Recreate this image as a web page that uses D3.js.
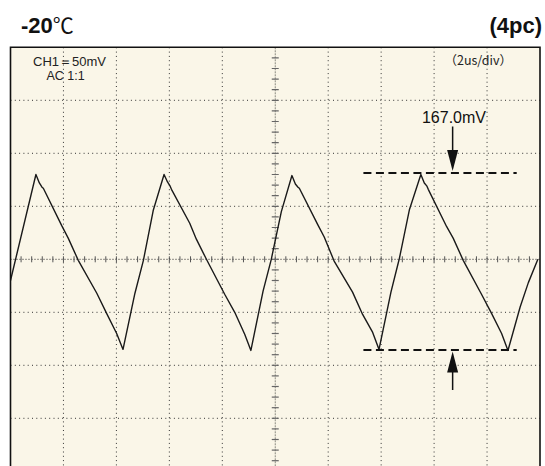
<!DOCTYPE html>
<html>
<head>
<meta charset="utf-8">
<script src="https://cdn.jsdelivr.net/npm/d3@7"></script>
<style>
  html, body { margin: 0; padding: 0; background: #ffffff; }
  svg { display: block; }
</style>
</head>
<body>
<svg id="chart" width="545" height="466"></svg>
<script>
// ---- data (time in us, voltage in mV) ----
const timeUs = [0, 0.96, 1.09, 1.19, 1.24, 1.93, 2.18, 2.56, 3.26, 3.63, 4.01, 4.25, 4.70, 5.02, 5.39, 5.80,
  5.93, 6.03, 6.08, 6.77, 7.02, 7.40, 8.09, 8.47, 8.85, 9.08, 9.54, 9.85, 10.23, 10.63,
  10.76, 10.86, 10.91, 11.60, 11.85, 12.23, 12.92, 13.30, 13.68, 13.92, 14.37, 14.69, 15.07, 15.50,
  15.63, 15.73, 15.78, 16.47, 16.72, 17.10, 17.79, 18.17, 18.55, 18.79, 19.25, 19.56, 19.92];
const voltageMv = [-20, 80, 72, 68, 67, 32, 20, -1, -32, -51, -70, -85, -32, -1, 46, 80,
  73, 69, 66, 34, 19, 0, -33, -50, -71, -86, -30, 0, 45, 79,
  71, 68, 67, 33, 21, -2, -31, -52, -69, -85, -31, 1, 47, 80,
  72, 69, 66, 31, 20, -1, -33, -51, -70, -86, -45, -22, 0];
const xGridUs = [2, 4, 6, 8, 12, 14, 16, 18];
const yGridMv = [150, 100, 50, -50, -100, -150];
const timeDomain = [0, 20];
const voltDomain = [-200, 200];
const minorStepUs = 0.4;
const minorStepMv = 10;
const peakLevel = 81.5;
const troughLevel = -85.5;
const markerSpan = [13.33, 19.12];
const arrowTime = 16.70;
const titleLeft = "-20";
const titleUnit = "℃";
const titleRight = "(4pc)";
const chLabel = "CH1＝50mV";
const acLabel = "AC 1:1";
const divLabel = "（2us/div）";
const ppLabel = "167.0mV";

// ---- layout ----
const svg = d3.select("#chart");
const pLeft = 10.5, pRight = 540, pTop = 47.3, pBottom = 471.3;
const x = d3.scaleLinear().domain(timeDomain).range([pLeft, pRight]);
const y = d3.scaleLinear().domain(voltDomain).range([pBottom, pTop]);

svg.append("defs").append("clipPath").attr("id", "clip")
  .append("rect").attr("x", pLeft).attr("y", pTop).attr("width", pRight - pLeft).attr("height", pBottom - pTop);

// background
svg.append("rect").attr("x", pLeft).attr("y", pTop).attr("width", pRight - pLeft).attr("height", pBottom - pTop)
  .attr("fill", "#faf6e8");

// dotted grid
const g = svg.append("g").attr("clip-path", "url(#clip)");
g.selectAll(".vg").data(xGridUs).join("line")
  .attr("x1", d => x(d)).attr("x2", d => x(d)).attr("y1", pTop).attr("y2", pBottom)
  .attr("stroke", "#333").attr("stroke-width", 1).attr("stroke-dasharray", "1,3.3");
g.selectAll(".hg").data(yGridMv).join("line")
  .attr("y1", d => y(d)).attr("y2", d => y(d)).attr("x1", pLeft).attr("x2", pRight)
  .attr("stroke", "#333").attr("stroke-width", 1).attr("stroke-dasharray", "1,3.3");

// center axes
const cx = x(10), cy = y(0);
g.append("line").attr("x1", cx).attr("x2", cx).attr("y1", pTop).attr("y2", pBottom)
  .attr("stroke", "#8a8a80").attr("stroke-width", 1).attr("stroke-dasharray", "2,1");
g.append("line").attr("x1", pLeft).attr("x2", pRight).attr("y1", cy).attr("y2", cy)
  .attr("stroke", "#222").attr("stroke-width", 1).attr("stroke-dasharray", "1,2");

const xMinor = d3.range(timeDomain[0] + minorStepUs, timeDomain[1], minorStepUs);
g.selectAll(".xt").data(xMinor).join("line")
  .attr("x1", d => x(d)).attr("x2", d => x(d)).attr("y1", cy - 3).attr("y2", cy + 3)
  .attr("stroke", "#555").attr("stroke-width", 1);
const yMinor = d3.range(voltDomain[0] + minorStepMv, voltDomain[1], minorStepMv);
g.selectAll(".yt").data(yMinor).join("line")
  .attr("y1", d => y(d)).attr("y2", d => y(d)).attr("x1", cx - 3.5).attr("x2", cx + 3.5)
  .attr("stroke", "#666").attr("stroke-width", 1.2);

// waveform
const pts = timeUs.map((t, i) => [t, voltageMv[i]]);
g.append("path").datum(pts)
  .attr("d", d3.line().x(d => x(d[0])).y(d => y(d[1])))
  .attr("fill", "none").attr("stroke", "#1a1a1a").attr("stroke-width", 1.4)
  .attr("stroke-linejoin", "round");

// frame (bottom edge falls outside the picture)
svg.append("path")
  .attr("d", `M${pLeft},${pBottom} L${pLeft},${pTop} L${pRight},${pTop} L${pRight},${pBottom}`)
  .attr("fill", "none").attr("stroke", "#111").attr("stroke-width", 1.6);

// measurement dashed lines
[peakLevel, troughLevel].forEach(v => {
  svg.append("line").attr("x1", x(markerSpan[0])).attr("x2", x(markerSpan[1]))
    .attr("y1", y(v)).attr("y2", y(v))
    .attr("stroke", "#111").attr("stroke-width", 2).attr("stroke-dasharray", "8,4.5");
});

// arrows
const ax = x(arrowTime);
const topTip = y(peakLevel) - 2;
svg.append("line").attr("x1", ax).attr("x2", ax).attr("y1", 126.5).attr("y2", topTip - 18)
  .attr("stroke", "#111").attr("stroke-width", 1.5);
svg.append("path").attr("d", `M${ax - 5.5},${topTip - 21} L${ax + 5.5},${topTip - 21} L${ax},${topTip} Z`)
  .attr("fill", "#111");
const botTip = y(troughLevel) + 1.5;
svg.append("line").attr("x1", ax).attr("x2", ax).attr("y1", botTip + 18).attr("y2", 390)
  .attr("stroke", "#111").attr("stroke-width", 1.5);
svg.append("path").attr("d", `M${ax - 5.5},${botTip + 21} L${ax + 5.5},${botTip + 21} L${ax},${botTip} Z`)
  .attr("fill", "#111");

// texts
const font = "'Liberation Sans', Arial, Helvetica, sans-serif";
const t1 = svg.append("text").attr("x", 21).attr("y", 33)
  .attr("font-family", font).attr("font-size", 22).attr("fill", "#111");
t1.append("tspan").attr("font-weight", "bold").text(titleLeft);
t1.append("tspan").attr("font-family", "'Noto Sans CJK JP', sans-serif").attr("font-size", 21).text(titleUnit);
svg.append("text").attr("x", 542).attr("y", 33).attr("text-anchor", "end")
  .attr("font-family", font).attr("font-size", 22).attr("font-weight", "bold").attr("fill", "#111")
  .text(titleRight);

svg.append("text").attr("x", 33).attr("y", 66).attr("font-family", font).attr("font-size", 13)
  .attr("fill", "#222").text(chLabel);
svg.append("text").attr("x", 46.5).attr("y", 80).attr("font-family", font).attr("font-size", 12.5)
  .attr("fill", "#222").text(acLabel);
svg.append("text").attr("x", 512).attr("y", 65).attr("text-anchor", "end")
  .attr("font-family", "'Noto Sans CJK JP', " + font).attr("font-size", 12.5)
  .attr("fill", "#222").text(divLabel);
svg.append("text").attr("x", 454).attr("y", 122.7).attr("text-anchor", "middle")
  .attr("font-family", font).attr("font-size", 16).attr("fill", "#111").text(ppLabel);
</script>
</body>
</html>
